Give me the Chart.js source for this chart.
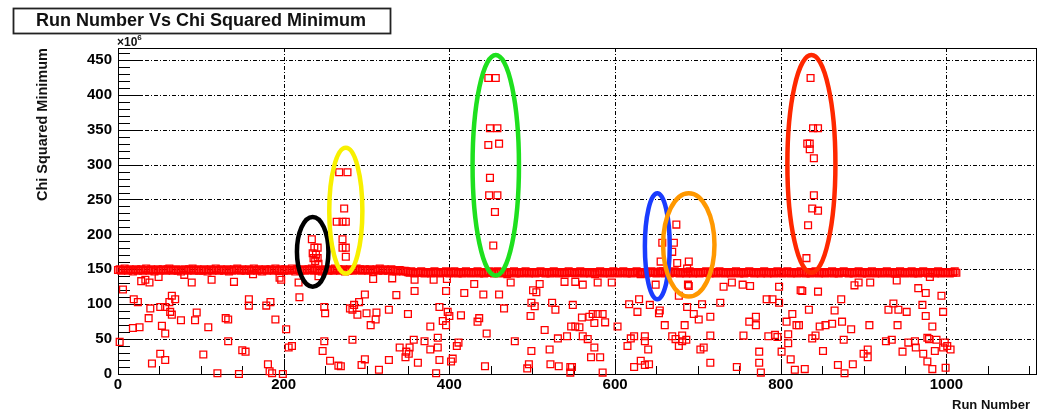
<!DOCTYPE html>
<html>
<head>
<meta charset="utf-8">
<script src="https://cdn.jsdelivr.net/npm/chart.js@4.4.0/dist/chart.umd.min.js"></script>
<style>
html, body { margin:0; padding:0; background:#fff; }
</style>
</head>
<body>
<canvas id="grafico" width="1042" height="412"></canvas>
<script>
// testi
var titolo = 'Run Number Vs Chi Squared Minimum';
var xTitle = 'Run Number';
var yTitle = 'Chi Squared Minimum';
var yExponent = '6';

// assi
var xTicks = [0, 200, 400, 600, 800, 1000];
var yTicks = [0, 50, 100, 150, 200, 250, 300, 350, 400, 450];
var xMax = 1108;
var yMax = 467;

// banda principale: un valore ogni 2 run, dal run 0 al 1012
var bandFirstRun = 0;
var bandStep = 2;
var bandValues = [
  149,150,148,149,151,149,148,150,149,147,149,150,148,149,150,148,149,151,149,148,150,149,147,149,150,
  148,149,150,149,148,150,151,149,148,149,150,148,149,147,149,150,149,148,150,149,151,148,149,150,148,
  149,148,150,149,147,149,150,148,149,151,149,148,150,149,148,149,150,147,149,148,150,149,151,149,148,
  150,149,148,149,150,148,149,151,149,148,150,149,147,149,150,148,149,150,149,148,151,149,148,150,149,
  148,150,149,148,149,151,149,147,150,149,148,149,150,148,149,150,149,151,148,149,150,148,149,147,149,
  150,149,148,150,149,148,151,149,150,148,149,150,147,149,148,150,149,148,149,151,149,150,148,149,150,
  149,148,150,149,147,149,150,148,151,149,148,150,149,148,149,150,148,149,147,148,149,148,147,148,147,
  146,145,147,146,144,145,146,145,147,145,144,146,145,146,144,145,147,146,145,144,146,145,146,147,145,
  144,146,145,147,145,144,146,145,144,146,147,145,146,144,145,146,145,147,144,146,145,144,146,145,147,
  145,146,144,145,147,146,145,144,146,145,143,145,146,145,147,144,146,145,144,146,145,147,145,144,146,
  146,145,144,146,145,147,145,146,144,145,146,144,145,147,146,145,144,146,145,146,144,145,147,145,146,
  145,144,146,145,147,146,144,145,146,145,144,146,145,143,145,146,147,145,144,146,145,146,144,145,147,
  145,146,144,145,146,147,145,144,146,145,144,146,145,147,146,144,145,146,145,144,146,145,147,145,146,
  144,145,146,145,147,144,146,145,144,146,145,147,145,146,144,145,146,145,144,146,147,145,144,146,145,
  146,144,145,146,145,147,145,144,146,145,146,144,145,147,145,146,144,145,146,145,144,146,145,147,145,
  144,146,145,144,146,145,147,145,146,144,145,146,145,144,146,147,145,144,146,145,146,144,145,147,146,
  145,144,146,145,147,145,144,146,145,146,144,145,147,146,145,144,146,145,144,146,145,147,145,144,146,
  145,146,144,145,146,145,147,144,146,145,144,146,145,147,145,146,144,145,146,144,145,146,147,145,144,
  146,145,144,146,145,147,145,144,146,145,146,144,145,146,147,145,144,146,145,144,146,145,147,145,146,
  144,145,146,145,147,144,146,145,144,146,145,147,145,146,144,145,146,145,144,146,147,145,144,146,145,
  146,145,144,146,145,147,145
];

// punti sparsi sotto la banda [run, valore]
var lowPoints = [
  [6,121],[2,46],[28,133],[33,135],[38,131],[49,139],[80,142],[89,131],[113,135],[140,132],
  [163,143],[195,138],[197,135],[218,131],[219,110],[19,107],[24,103],[65,112],[69,107],[62,103],
  [39,94],[51,96],[57,96],[63,89],[65,85],[37,80],[76,77],[93,77],[95,88],[130,80],
  [133,78],[158,107],[158,98],[179,98],[184,103],[190,78],[18,66],[26,67],[53,69],[57,58],
  [109,67],[203,64],[249,96],[250,87],[133,47],[51,29],[57,20],[41,15],[103,28],[150,34],
  [154,32],[206,38],[210,40],[249,47],[247,33],[256,19],[266,12],[181,14],[183,4],[120,1],
  [146,0],[186,1],[199,0],[242,140],
  [308,136],[331,137],[358,135],[381,135],[397,136],[430,129],[474,131],[509,129],[539,132],[298,114],
  [336,113],[358,119],[396,119],[418,116],[441,114],[460,114],[501,120],[505,117],[291,103],[285,99],
  [280,94],[283,92],[289,85],[300,87],[312,88],[327,92],[350,86],[311,78],[305,70],[388,96],
  [398,89],[400,83],[392,76],[396,70],[377,68],[414,84],[434,75],[436,80],[466,94],[499,102],
  [503,97],[498,83],[524,102],[528,92],[515,63],[547,68],[445,58],[386,52],[283,49],[357,49],
  [370,47],[411,45],[340,38],[352,38],[377,35],[386,38],[409,40],[479,47],[531,51],[542,54],
  [348,32],[351,29],[347,24],[499,33],[521,35],[298,21],[294,13],[327,20],[362,16],[388,20],
  [404,22],[402,18],[269,11],[315,6],[384,1],[443,11],[496,14],[494,8],[522,14],[532,11],
  [546,10],[546,2],
  [552,132],[561,128],[579,131],[596,131],[631,143],[677,112],[688,128],[731,125],[741,131],[754,128],
  [763,126],[798,125],[824,120],[549,99],[617,100],[629,107],[642,99],[627,89],[654,91],[653,87],
  [687,96],[695,86],[705,100],[701,78],[715,82],[727,102],[783,107],[790,107],[798,102],[573,86],
  [579,86],[585,86],[569,82],[560,81],[575,73],[588,74],[552,68],[557,67],[603,68],[660,70],
  [684,70],[762,75],[770,82],[770,70],[814,86],[807,75],[819,70],[561,54],[567,50],[619,51],
  [636,54],[636,47],[623,54],[669,54],[673,50],[681,55],[681,47],[686,49],[715,55],[755,55],
  [785,54],[793,56],[796,53],[809,57],[809,44],[575,38],[615,40],[640,35],[677,40],[703,35],
  [707,38],[774,32],[801,32],[571,24],[582,24],[631,19],[636,13],[641,14],[623,10],[715,16],
  [747,10],[774,16],[812,21],[548,10],[585,2],[776,2],[817,6],[649,128],
  [826,119],[845,118],[889,127],[894,131],[908,131],[940,134],[966,123],[975,116],[994,112],[980,139],
  [873,107],[834,92],[865,91],[930,92],[936,101],[942,92],[952,89],[971,99],[975,83],[996,89],
  [822,70],[847,68],[854,70],[862,72],[874,75],[885,64],[907,70],[941,70],[983,68],[838,51],
  [842,55],[876,49],[927,47],[934,49],[954,45],[962,47],[963,38],[977,52],[979,50],[988,49],
  [998,45],[1001,40],[996,38],[1005,35],[851,33],[905,35],[900,29],[905,24],[947,32],[972,29],
  [986,33],[869,13],[887,14],[829,7],[877,1],[977,18],[983,7],[999,9]
];

// picchi sopra la banda [run, valore]
var spikePoints = [
  [234,193],[237,181],[241,181],[235,173],[239,171],[236,166],[241,166],[238,162],[242,158],
  [267,289],[277,289],[273,237],[264,218],[271,218],[275,218],[271,193],[271,181],[275,181],[275,168],
  [447,424],[456,424],[449,352],[458,352],[447,328],[460,330],[449,281],[448,256],[458,256],[455,232],[453,184],
  [657,188],[655,161],[655,147],
  [674,214],[671,188],[669,175],[675,159],[689,161],[687,151],[689,126],
  [836,424],[839,352],[845,352],[832,330],[835,330],[835,322],[840,309],[840,256],[838,237],[845,234],[833,213],[831,166]
];

// ellissi disegnate sopra (centro run, centro valore, semiasse run, semiasse valore)
var ellipseRuns = [235, 275, 456, 651, 689, 837];
var ellipseValues = [175, 234, 299, 183, 185, 301];
var ellipseHalfRuns = [19, 20, 28, 15, 31, 29];
var ellipseHalfValues = [50, 90, 158, 76, 74, 156];
var ellipseColors = ['#000000', '#f8f000', '#1ee01e', '#1a3cff', '#ff9800', '#ff2800'];

var punti = [];
for (var i = 0; i < bandValues.length; i++) {
  punti.push({ x: bandFirstRun + i * bandStep, y: bandValues[i] });
}
lowPoints.forEach(function(p){ punti.push({ x: p[0], y: p[1] }); });
spikePoints.forEach(function(p){ punti.push({ x: p[0], y: p[1] }); });

var famiglia = '"Liberation Sans", Arial, sans-serif';

var rootStyle = {
  id: 'rootStyle',
  beforeDatasetsDraw: function(chart) {
    var ctx = chart.ctx, ca = chart.chartArea;
    var xs = chart.scales.x, ys = chart.scales.y;
    ctx.save();
    ctx.strokeStyle = '#000';
    ctx.lineWidth = 1;
    // griglia tratto-punto
    ctx.setLineDash([4, 2, 1, 2]);
    xTicks.forEach(function(v) {
      if (v === 0) return;
      var px = Math.round(xs.getPixelForValue(v)) + 0.5;
      ctx.beginPath(); ctx.moveTo(px, ca.top); ctx.lineTo(px, ca.bottom); ctx.stroke();
    });
    yTicks.forEach(function(v) {
      if (v === 0) return;
      var py = Math.round(ys.getPixelForValue(v)) + 0.5;
      ctx.beginPath(); ctx.moveTo(ca.left, py); ctx.lineTo(ca.right, py); ctx.stroke();
    });
    ctx.setLineDash([]);
    // tacche asse x
    for (var v = 0; v <= xMax; v += 50) {
      var px = Math.round(xs.getPixelForValue(v)) + 0.5;
      var len = (v % 200 === 0) ? 15 : 8;
      ctx.beginPath(); ctx.moveTo(px, ca.bottom); ctx.lineTo(px, ca.bottom - len); ctx.stroke();
    }
    // tacche asse y
    for (var w = 0; w <= yMax; w += 10) {
      var py = Math.round(ys.getPixelForValue(w)) + 0.5;
      var l2 = (w % 50 === 0) ? 24 : 12;
      ctx.beginPath(); ctx.moveTo(ca.left, py); ctx.lineTo(ca.left + l2, py); ctx.stroke();
    }
    // cornice
    ctx.strokeRect(Math.round(ca.left) + 0.5, Math.round(ca.top) + 0.5,
      Math.round(ca.right - ca.left), Math.round(ca.bottom - ca.top));
    ctx.restore();
  },
  afterDatasetsDraw: function(chart) {
    var ctx = chart.ctx;
    var xs = chart.scales.x, ys = chart.scales.y;
    ctx.save();
    ctx.lineWidth = 4.5;
    for (var i = 0; i < ellipseRuns.length; i++) {
      var cx = xs.getPixelForValue(ellipseRuns[i]);
      var cy = ys.getPixelForValue(ellipseValues[i]);
      var rx = Math.abs(xs.getPixelForValue(ellipseRuns[i] + ellipseHalfRuns[i]) - cx);
      var ry = Math.abs(ys.getPixelForValue(ellipseValues[i] + ellipseHalfValues[i]) - cy);
      ctx.strokeStyle = ellipseColors[i];
      ctx.beginPath();
      ctx.ellipse(cx, cy, rx, ry, 0, 0, Math.PI * 2);
      ctx.stroke();
    }
    ctx.restore();
  },
  afterDraw: function(chart) {
    var ctx = chart.ctx, ca = chart.chartArea;
    ctx.save();
    // riquadro titolo
    ctx.fillStyle = '#fff';
    ctx.fillRect(14, 9, 376, 24);
    ctx.strokeStyle = '#222';
    ctx.lineWidth = 1.8;
    ctx.strokeRect(13.5, 8.5, 377, 25);
    ctx.fillStyle = '#111';
    ctx.font = 'bold 18px ' + famiglia;
    ctx.textAlign = 'center';
    ctx.textBaseline = 'middle';
    ctx.fillText(titolo, 201, 21);
    // esponente
    ctx.textAlign = 'left';
    ctx.textBaseline = 'alphabetic';
    ctx.font = 'bold 12px ' + famiglia;
    ctx.fillText('\u00d710', ca.left - 1, 46);
    var wEsp = ctx.measureText('\u00d710').width;
    ctx.font = 'bold 8px ' + famiglia;
    ctx.fillText(yExponent, ca.left - 1 + wEsp, 40);
    // titolo asse x
    ctx.font = 'bold 13px ' + famiglia;
    ctx.textAlign = 'right';
    ctx.fillText(xTitle, 1030, 409);
    // titolo asse y
    ctx.font = 'bold 14.5px ' + famiglia;
    ctx.translate(43, ca.top);
    ctx.rotate(-Math.PI / 2);
    ctx.textAlign = 'right';
    ctx.textBaseline = 'middle';
    ctx.fillText(yTitle, 0, 0);
    ctx.restore();
  }
};

var ctx = document.getElementById('grafico');
var config = {
  type: 'scatter',
  data: {
    datasets: [{
      label: 'chi2',
      data: punti,
      pointStyle: 'rect',
      pointRadius: 4.8,
      pointBorderWidth: 1.3,
      borderColor: '#ff0000',
      backgroundColor: 'rgba(0,0,0,0)',
      clip: false
    }]
  },
  options: {
    responsive: false,
    animation: false,
    devicePixelRatio: 1,
    layout: { padding: { left: 0, top: 48, right: 4, bottom: 0 } },
    plugins: { legend: { display: false }, tooltip: { enabled: false } },
    scales: {
      x: {
        type: 'linear', min: 0, max: xMax,
        grid: { display: false, drawTicks: false }, border: { display: false },
        afterBuildTicks: function(axis) { axis.ticks = xTicks.map(function(v){ return { value: v }; }); },
        afterFit: function(s) { s.height = 38; },
        ticks: { color: '#000', padding: 2, maxRotation: 0, autoSkip: false,
          callback: function(v) { return String(v); },
          font: { family: famiglia, size: 15, weight: 'bold' } }
      },
      y: {
        type: 'linear', min: 0, max: yMax,
        grid: { display: false, drawTicks: false }, border: { display: false },
        afterBuildTicks: function(axis) { axis.ticks = yTicks.map(function(v){ return { value: v }; }); },
        afterFit: function(s) { s.width = 118; },
        ticks: { color: '#000', padding: 6, autoSkip: false,
          callback: function(v) { return String(v); },
          font: { family: famiglia, size: 15, weight: 'bold' } }
      }
    }
  },
  plugins: [rootStyle]
};
console.log(config);
window.myScatter = new Chart(ctx, config);
</script>
</body>
</html>
